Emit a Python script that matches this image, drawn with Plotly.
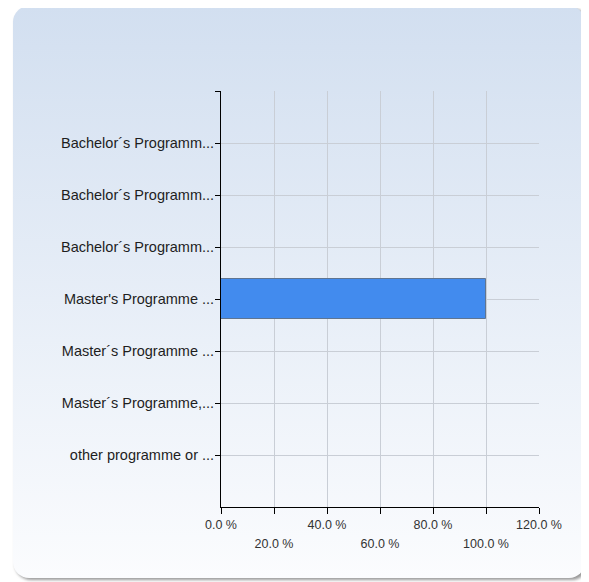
import base64
import plotly.graph_objects as go

categories = [
    "Bachelor´s Programm...",
    "Bachelor´s Programm...",
    "Bachelor´s Programm...",
    "Master's Programme ...",
    "Master´s Programme ...",
    "Master´s Programme,...",
    "other programme or ...",
]
values = [0, 0, 0, 100, 0, 0, 0]
x_ticks = [0, 20, 40, 60, 80, 100, 120]
x_tick_labels = ["0.0 %", "20.0 %", "40.0 %", "60.0 %", "80.0 %", "100.0 %", "120.0 %"]

# page body has an 8px margin, so the figure is placed at (8, 8)
W, H = 581, 574
ML, MR, MT, MB = 213, 50, 83, 75
PW, PH = W - ML - MR, H - MT - MB

svg = f'''<svg xmlns="http://www.w3.org/2000/svg" width="{W}" height="{H}" viewBox="0 0 {W} {H}">
<defs>
<linearGradient id="g" x1="0" y1="0" x2="0" y2="1">
<stop offset="0" stop-color="#d2dff0"/>
<stop offset="1" stop-color="#fbfcfe"/>
</linearGradient>
<filter id="s" x="-5%" y="-5%" width="110%" height="110%">
<feGaussianBlur stdDeviation="1.5"/>
</filter>
</defs>
<rect x="7" y="0" width="573" height="572" rx="16" ry="16" fill="#9a9a9a" filter="url(#s)"/>
<rect x="5" y="-2" width="572" height="572" rx="16" ry="16" fill="url(#g)"/>
</svg>'''
src = "data:image/svg+xml;base64," + base64.b64encode(svg.encode()).decode()

idx = list(range(len(categories)))

fig = go.Figure()
fig.add_trace(go.Bar(
    x=values, y=idx, orientation="h", width=0.77,
    marker=dict(color="#428bee", line=dict(color="#5f7591", width=1)),
    hoverinfo="x+y", showlegend=False,
))

row1 = [t if i % 2 == 0 else "" for i, t in enumerate(x_tick_labels)]
row2_vals = [v for i, v in enumerate(x_ticks) if i % 2 == 1]
row2_text = [t for i, t in enumerate(x_tick_labels) if i % 2 == 1]

fig.update_layout(
    width=W, height=H,
    margin=dict(l=ML, r=MR, t=MT, b=MB),
    paper_bgcolor="white", plot_bgcolor="rgba(0,0,0,0)",
    images=[dict(source=src, xref="paper", yref="paper", x=-ML / PW, y=1 + MT / PH,
                 sizex=W / PW, sizey=H / PH, xanchor="left", yanchor="top",
                 sizing="stretch", layer="below")],
    font=dict(family="Liberation Sans, Arial, sans-serif", color="#222222"),
    bargap=0,
    xaxis=dict(
        range=[0, 120], tickmode="array", tickvals=x_ticks, ticktext=row1,
        showgrid=True, gridcolor="#c9ced6", gridwidth=1,
        showline=True, linecolor="black", linewidth=1,
        ticks="outside", ticklen=6, tickcolor="black",
        tickfont=dict(size=12.5, color="#333333"), zeroline=False,
    ),
    xaxis2=dict(
        overlaying="x", matches="x", side="bottom", range=[0, 120],
        tickmode="array", tickvals=row2_vals, ticktext=row2_text,
        showgrid=False, showline=False, ticks="", ticklabelstandoff=27,
        tickfont=dict(size=12.5, color="#333333"), zeroline=False,
    ),
    yaxis=dict(
        range=[7, -1], tickmode="array", tickvals=[-1] + idx, ticktext=[""] + categories,
        showgrid=True, gridcolor="#c9ced6", gridwidth=1,
        showline=True, linecolor="black", linewidth=1,
        ticks="outside", ticklen=5, tickcolor="black", ticklabelstandoff=-2,
        tickfont=dict(size=14.5, color="#1e1e1e"), zeroline=False,
    ),
)
fig.add_trace(go.Scatter(x=[None], y=[None], xaxis="x2", showlegend=False, hoverinfo="skip"))

fig.write_html("out.html")
